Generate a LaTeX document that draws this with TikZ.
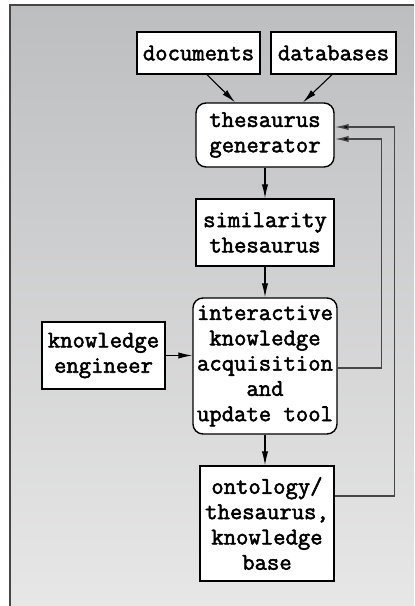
\documentclass[tikz,border=0pt]{standalone}
\usepackage{fontspec}
\newfontfamily\boxfont{Latin Modern Mono}[FakeBold=2.2]
\usetikzlibrary{arrows.meta,calc}

\definecolor{paneltop}{RGB}{189,190,192}
\definecolor{panelbot}{RGB}{231,231,231}
\definecolor{edgegray}{RGB}{70,70,70}

\tikzset{
  box/.style={draw=black, line width=0.7pt, fill=white, inner sep=0pt,
    align=center, font=\fontsize{12}{12.65}\selectfont\boxfont},
  roundbox/.style={box, rounded corners=5pt},
  flow/.style={draw=black, line width=0.55pt, -{Latex[length=7pt,width=3.2pt]}},
  feedback/.style={draw=edgegray, line width=0.7pt, -{Latex[length=7pt,width=3.2pt,fill=black]}},
}

\begin{document}
\begin{tikzpicture}[x=0.5pt, y=-0.5pt]
  \useasboundingbox (0,0) rectangle (414,606);

  % shaded panel, ruled on its left and top edges only
  \shade[top color=paneltop, bottom color=panelbot] (10,5) rectangle (414,606);
  \draw[edgegray, line width=0.75pt] (10,606) -- (10,5) -- (414,5);

  % boxes
  \node[box, minimum width=61.5pt, minimum height=21pt] (docs) at (198.5,53) {documents};
  \node[box, minimum width=62.5pt, minimum height=21pt] (dbs) at (333.5,53) {databases};
  \node[roundbox, minimum width=69pt, minimum height=32pt] (gen) at (265,135) {thesaurus\\generator};
  \node[box, minimum width=69pt, minimum height=33.5pt] (sim) at (265,232.5) {similarity\\thesaurus};
  \node[roundbox, minimum width=72pt, minimum height=68pt] (tool) at (265,366)
    {interactive\\knowledge\\acquisition\\and\\update tool};
  \node[box, minimum width=61.5pt, minimum height=33.5pt] (eng) at (103.5,355.5) {knowledge\\engineer};
  \node[box, minimum width=67pt, minimum height=57.5pt] (onto) at (267,523.5)
    {ontology/\\thesaurus,\\knowledge\\base};

  % main flow
  \draw[flow] ($(docs.south)+(8.5,0)$) -- ($(gen.north)+(-30,0)$);
  \draw[flow] ($(dbs.south)+(-1.5,0)$) -- ($(gen.north)+(38,0)$);
  \draw[flow] (gen.south) -- (gen.south |- sim.north);
  \draw[flow] (sim.south) -- (sim.south |- tool.north);
  \draw[flow] (eng.east) -- (eng.east -| tool.west);
  \draw[flow] (tool.south) -- (tool.south |- onto.north);

  % feedback loops into the generator
  \draw[feedback] ($(tool.east)+(0,2)$) -- ++(44,0) |- ($(gen.east)+(0,4)$);
  \draw[feedback] ($(onto.east)+(0,-27.5)$) -- ++(60,0) |- ($(gen.east)+(0,-8)$);
\end{tikzpicture}
\end{document}
